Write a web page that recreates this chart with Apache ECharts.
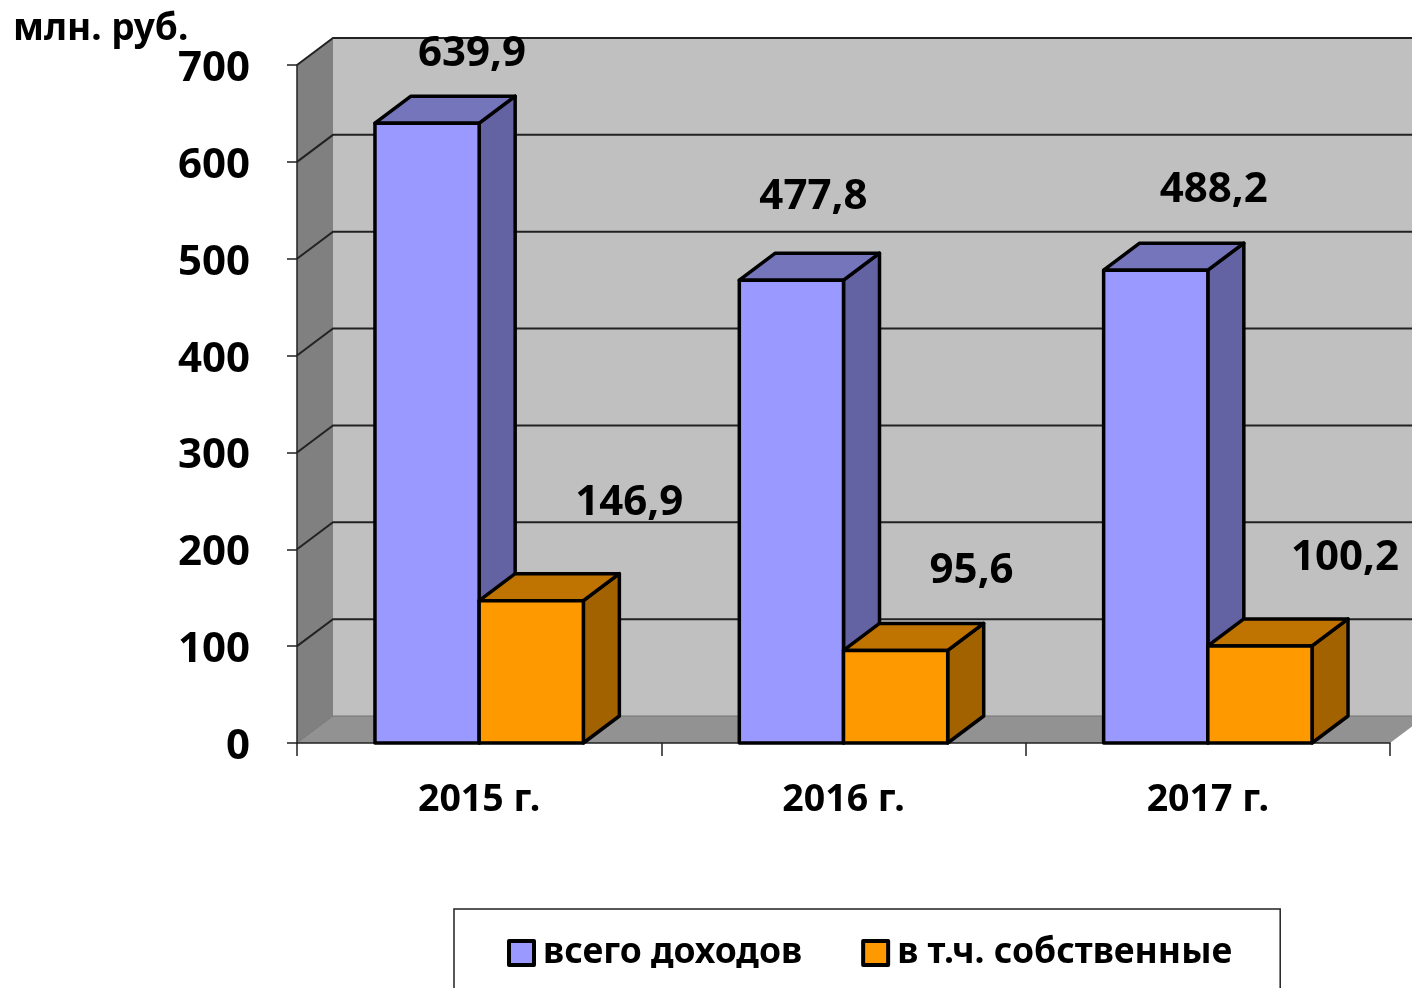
<!DOCTYPE html>
<html>
<head>
<meta charset="utf-8">
<style>html,body{margin:0;padding:0;background:#fff;overflow:hidden}#c{width:1412px;height:988px}</style>
<script src="https://cdn.jsdelivr.net/npm/echarts@6/dist/echarts.min.js"></script>
</head>
<body>
<div id="c"></div>
<script>
const categories = ['2015 г.', '2016 г.', '2017 г.'];
const totalIncome = [639.9, 477.8, 488.2];
const ownIncome = [146.9, 95.6, 100.2];
const yTicks = [0, 100, 200, 300, 400, 500, 600, 700];

// Layout constants (pixels)
const DX = 36, DY = -27;
const BAR_RATIO = 0.286;
const FONT = '"Noto Sans", sans-serif';
const totalNudge = [[45, -69], [22, -83], [58, -80]];
const ownNudge = [[98, -98], [76, -79], [85, -88]];

const chart = echarts.init(document.getElementById('c'), null, {renderer: 'canvas'});

function fmt(v) { return v.toFixed(1).replace('.', ','); }

function wallItem(params, api) {
  const band = api.size([1, 0])[0];
  const first = api.coord([0, 0]);
  const last = api.coord([categories.length - 1, 0]);
  const top = api.coord([0, 700])[1];
  const bottom = first[1];
  const x0 = first[0] - band / 2, x1 = last[0] + band / 2;
  const poly = (points, fill) => ({type: 'polygon', shape: {points}, style: {fill, stroke: null}});
  return {type: 'group', children: [
    poly([[x0 + DX, top + DY], [x1 + DX, top + DY], [x1 + DX, bottom + DY], [x0 + DX, bottom + DY]], '#c0c0c0'),
    poly([[x0, top], [x0 + DX, top + DY], [x0 + DX, bottom + DY], [x0, bottom]], '#808080'),
    poly([[x0, bottom], [x0 + DX, bottom + DY], [x1 + DX, bottom + DY], [x1, bottom]], '#929292')
  ]};
}

function gridItem(params, api) {
  const v = api.value(1);
  const band = api.size([1, 0])[0];
  const y = api.coord([0, v])[1];
  const x0 = api.coord([0, 0])[0] - band / 2;
  const x1 = api.coord([categories.length - 1, 0])[0] + band / 2;
  const zero = v === 0;
  return {
    type: 'polyline',
    shape: {points: [[x0, y], [x0 + DX, y + DY], [x1 + DX, y + DY]]},
    style: {fill: null, stroke: zero ? '#757575' : '#222', lineWidth: zero ? 1 : 2}
  };
}

function barRenderer(side, values, nudges, faces) {
  return function (params, api) {
    const i = api.value(0);
    const v = api.value(1);
    const band = api.size([1, 0])[0];
    const w = band * BAR_RATIO;
    const c = api.coord([i, v]);
    const base = api.coord([i, 0])[1];
    const l = side === 0 ? c[0] - w : c[0];
    const r = l + w;
    const t = c[1];
    const stroke = {stroke: '#000', lineWidth: 3.5, lineJoin: 'round'};
    const face = (points, fill) => ({type: 'polygon', shape: {points}, style: Object.assign({fill}, stroke)});
    return {type: 'group', children: [
      face([[r, t], [r + DX, t + DY], [r + DX, base + DY], [r, base]], faces[2]),
      face([[l, t], [l + DX, t + DY], [r + DX, t + DY], [r, t]], faces[1]),
      face([[l, t], [r, t], [r, base], [l, base]], faces[0]),
      {type: 'text', z2: 10, style: {
        text: fmt(v), x: (l + r) / 2 + nudges[i][0], y: t + nudges[i][1],
        textAlign: 'center', textVerticalAlign: 'middle',
        font: 'bold 42px ' + FONT, fill: '#000'
      }}
    ]};
  };
}

chart.setOption({
  animation: false,
  backgroundColor: '#fff',
  title: {
    text: 'млн. руб.', left: 8, top: 6,
    textStyle: {fontFamily: FONT, fontWeight: 'bold', fontSize: 37, color: '#000'}
  },
  grid: {left: 297, top: 65, right: 22, bottom: 245, containLabel: false},
  xAxis: {
    type: 'category', data: categories, z: 2,
    axisLine: {lineStyle: {color: '#222', width: 1.5}},
    axisTick: {show: true, length: 13, alignWithLabel: false, lineStyle: {color: '#222', width: 1.5}},
    axisLabel: {fontFamily: FONT, fontWeight: 'bold', fontSize: 37.5, color: '#000', margin: 38, interval: 0},
    splitLine: {show: false}
  },
  yAxis: {
    type: 'value', min: 0, max: 700, interval: 100, z: 2,
    axisLine: {show: true, lineStyle: {color: '#222', width: 1.5}},
    axisTick: {show: true, length: 10, lineStyle: {color: '#222', width: 1.5}},
    axisLabel: {
      margin: 47,
      formatter: '{v|{value}}',
      rich: {v: {fontFamily: FONT, fontWeight: 'bold', fontSize: 42, color: '#000', padding: [8, 0, 0, 0]}}
    },
    splitLine: {show: false}
  },
  legend: {
    data: ['всего доходов', 'в т.ч. собственные'],
    left: 454, top: 909,
    padding: [26, 48, 60, 53],
    itemWidth: 25, itemHeight: 24, itemGap: 59,
    icon: 'rect',
    borderColor: '#222', borderWidth: 1.5, backgroundColor: '#fff',
    itemStyle: {borderColor: '#000', borderWidth: 4, borderJoin: 'round'},
    textStyle: {fontFamily: FONT, fontWeight: 'bold', fontSize: 35.5, color: '#000', padding: [0, 0, 0, 4]}
  },
  series: [
    {type: 'custom', name: 'walls', z: 1, silent: true, clip: false,
     data: [[0, 0]], encode: {x: 0, y: 1}, renderItem: wallItem},
    {type: 'custom', name: 'gridlines', z: 1, silent: true, clip: false,
     data: yTicks.map(v => [0, v]), encode: {x: 0, y: 1}, renderItem: gridItem},
    {type: 'custom', name: 'всего доходов', z: 3, clip: false,
     itemStyle: {color: '#9999ff'},
     data: totalIncome.map((v, i) => [i, v]), encode: {x: 0, y: 1},
     renderItem: barRenderer(0, totalIncome, totalNudge, ['#9999ff', '#7575bb', '#6363a3'])},
    {type: 'custom', name: 'в т.ч. собственные', z: 4, clip: false,
     itemStyle: {color: '#ff9900'},
     data: ownIncome.map((v, i) => [i, v]), encode: {x: 0, y: 1},
     renderItem: barRenderer(1, ownIncome, ownNudge, ['#ff9900', '#bf7300', '#a36200'])}
  ]
});
</script>
</body>
</html>
